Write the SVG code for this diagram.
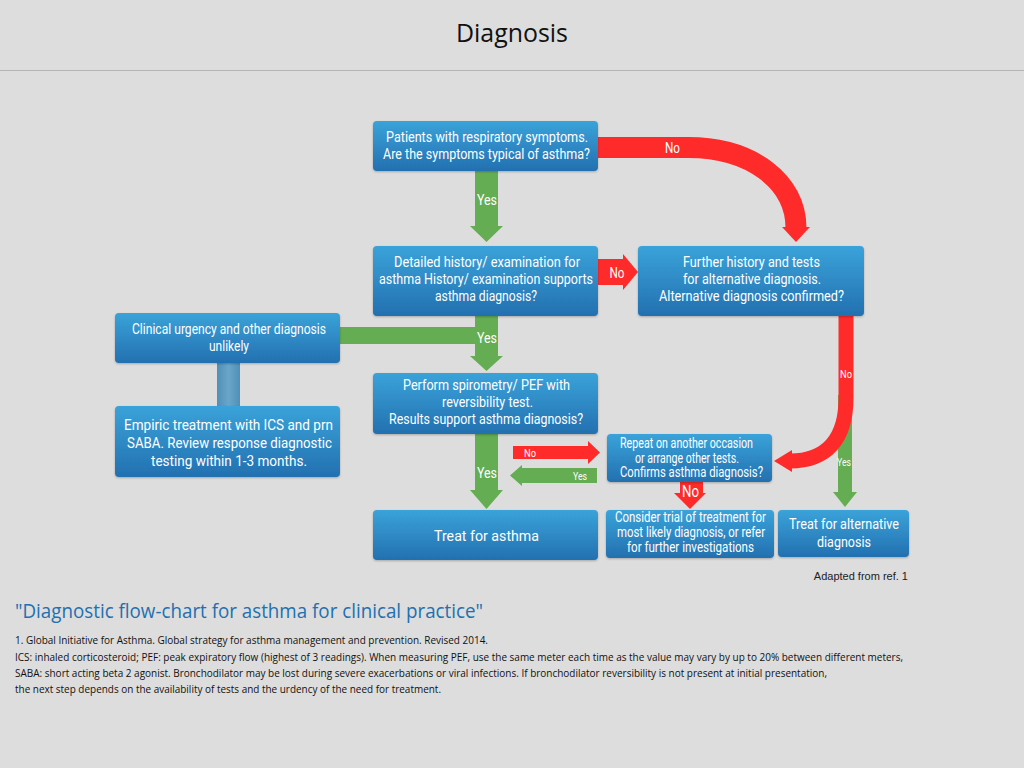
<svg xmlns="http://www.w3.org/2000/svg" width="1024" height="768" viewBox="0 0 1024 768">
<defs>
<linearGradient id="bx" x1="0" y1="0" x2="0" y2="1">
<stop offset="0" stop-color="#3aa3d9"/>
<stop offset="1" stop-color="#2370b0"/>
</linearGradient>
<linearGradient id="lnk" x1="0" y1="0" x2="1" y2="0">
<stop offset="0" stop-color="#4f8fb8"/>
<stop offset="0.5" stop-color="#6aa6c9"/>
<stop offset="1" stop-color="#4f8fb8"/>
</linearGradient>
<filter id="sh" x="-5%" y="-5%" width="110%" height="120%">
<feDropShadow dx="0" dy="1" stdDeviation="1" flood-color="#000" flood-opacity="0.25"/>
</filter>
</defs>
<style>
.box{fill:url(#bx);filter:url(#sh)}
.t{font-family:Roboto,"Liberation Sans",sans-serif;fill:#fff;text-anchor:middle;font-size:14px}
.c{font-family:Roboto,"Liberation Sans",sans-serif;fill:#fff;text-anchor:middle}
.g{fill:#64ad53}
.r{fill:#ff2b2b}
.fn{font-family:"Open Sans","Liberation Sans",sans-serif;font-size:10.5px;fill:#111}
</style>
<rect width="1024" height="768" fill="#dddddd"/>
<text x="512" y="42" text-anchor="middle" font-family="'Open Sans','Liberation Sans',sans-serif" font-size="26" fill="#111" textLength="112" lengthAdjust="spacingAndGlyphs">Diagnosis</text>
<line x1="0" y1="70.5" x2="1024" y2="70.5" stroke="#b5b5b5" stroke-width="1"/>

<g id="connectors">
<!-- 1 -> 2 yes -->
<rect class="g" x="475" y="171" width="23" height="56"/>
<polygon class="g" points="470,226 503,226 486.5,242"/>
<text class="c" x="487" y="205" font-size="15" textLength="20" lengthAdjust="spacingAndGlyphs">Yes</text>
<!-- 1 -> 3 no curve -->
<path d="M598,147.5 H688 C752,147.5 796,182 796,228" fill="none" stroke="#ff2b2b" stroke-width="21"/>
<polygon class="r" points="782,227 810,227 796,242"/>
<text class="c" x="672.5" y="153" font-size="15" textLength="15" lengthAdjust="spacingAndGlyphs">No</text>
<!-- 2 -> 3 no -->
<polygon class="r" points="598,259 623,259 623,254 638,272 623,290 623,285 598,285"/>
<text class="c" x="617" y="278" font-size="15" textLength="15" lengthAdjust="spacingAndGlyphs">No</text>
<!-- 2 -> 6 yes, with join from 4 -->
<rect class="g" x="340" y="327" width="158" height="17"/>
<rect class="g" x="475" y="316" width="23" height="41"/>
<polygon class="g" points="470,356 503,356 486.5,371"/>
<text class="c" x="487" y="343" font-size="15" textLength="20" lengthAdjust="spacingAndGlyphs">Yes</text>
<!-- 4 - 5 link -->
<rect x="217" y="363" width="23" height="43" fill="url(#lnk)"/>
<!-- 6 -> 8 yes -->
<rect class="g" x="475" y="434" width="23" height="57"/>
<polygon class="g" points="470,490 503,490 486.5,509"/>
<text class="c" x="487" y="478" font-size="15" textLength="20" lengthAdjust="spacingAndGlyphs">Yes</text>
<!-- 6 -> 7 no -->
<polygon class="r" points="513,446 588,446 588,441 600,452.5 588,464 588,459 513,459"/>
<text class="c" x="530" y="457" font-size="11" textLength="12" lengthAdjust="spacingAndGlyphs">No</text>
<!-- 7 -> 8 yes -->
<polygon class="g" points="597,468 522,468 522,465 510,475.5 522,486 522,483 597,483"/>
<text class="c" x="580" y="480" font-size="11" textLength="14" lengthAdjust="spacingAndGlyphs">Yes</text>
<!-- 7 -> 9 no -->
<rect class="r" x="680" y="482" width="23" height="12"/>
<polygon class="r" points="674,493 706,493 690,509"/>
<text class="c" x="690.5" y="497" font-size="16" textLength="17" lengthAdjust="spacingAndGlyphs">No</text>
<!-- 3 -> 10 yes -->
<rect class="g" x="838" y="395" width="14" height="98"/>
<polygon class="g" points="833,492 857,492 845,507"/>
<text class="c" x="844" y="466" font-size="11" textLength="14" lengthAdjust="spacingAndGlyphs">Yes</text>
<!-- 3 -> 7 no curve -->
<path d="M846,316 V398 C846,440 826,461 790,461" fill="none" stroke="#ff2b2b" stroke-width="15"/>
<polygon class="r" points="792,450 792,472 774,461"/>
<text class="c" x="846" y="378" font-size="11" textLength="12" lengthAdjust="spacingAndGlyphs">No</text>
</g>

<g id="n1">
<rect class="box" x="373" y="121" width="225" height="50" rx="4"/>
<text class="t" x="487" y="142" textLength="202" lengthAdjust="spacingAndGlyphs">Patients with respiratory symptoms.</text>
<text class="t" x="486.5" y="159" textLength="207" lengthAdjust="spacingAndGlyphs">Are the symptoms typical of asthma?</text>
</g>
<g id="n2">
<rect class="box" x="373" y="246" width="225" height="70" rx="4"/>
<text class="t" x="487" y="267" textLength="186" lengthAdjust="spacingAndGlyphs">Detailed history/ examination for</text>
<text class="t" x="486" y="284" font-size="12.5" textLength="214" lengthAdjust="spacingAndGlyphs">asthma History/ examination supports</text>
<text class="t" x="486" y="301" textLength="102" lengthAdjust="spacingAndGlyphs">asthma diagnosis?</text>
</g>
<g id="n3">
<rect class="box" x="638" y="246" width="226" height="70" rx="4"/>
<text class="t" x="751.5" y="267" textLength="137" lengthAdjust="spacingAndGlyphs">Further history and tests</text>
<text class="t" x="752" y="284" textLength="138" lengthAdjust="spacingAndGlyphs">for alternative diagnosis.</text>
<text class="t" x="751.5" y="301" textLength="185" lengthAdjust="spacingAndGlyphs">Alternative diagnosis confirmed?</text>
</g>
<g id="n4">
<rect class="box" x="115" y="313" width="225" height="50" rx="4"/>
<text class="c" x="229" y="334" font-size="15" textLength="194" lengthAdjust="spacingAndGlyphs">Clinical urgency and other diagnosis</text>
<text class="c" x="229" y="351" font-size="15" textLength="40" lengthAdjust="spacingAndGlyphs">unlikely</text>
</g>
<g id="n5">
<rect class="box" x="115" y="406" width="225" height="71" rx="4"/>
<text class="t" x="228.5" y="430" font-size="15.5" textLength="209" lengthAdjust="spacingAndGlyphs">Empiric treatment with ICS and prn</text>
<text class="t" x="229.5" y="448" font-size="15.5" textLength="205" lengthAdjust="spacingAndGlyphs">SABA. Review response diagnostic</text>
<text class="t" x="229" y="466" font-size="15.5" textLength="156" lengthAdjust="spacingAndGlyphs">testing within 1-3 months.</text>
</g>
<g id="n6">
<rect class="box" x="373" y="373" width="225" height="61" rx="4"/>
<text class="t" x="486.5" y="390" textLength="167" lengthAdjust="spacingAndGlyphs">Perform spirometry/ PEF with</text>
<text class="t" x="487.5" y="407" textLength="91" lengthAdjust="spacingAndGlyphs">reversibility test.</text>
<text class="t" x="486" y="424" textLength="194" lengthAdjust="spacingAndGlyphs">Results support asthma diagnosis?</text>
</g>
<g id="n7">
<rect class="box" x="607" y="434" width="165" height="48" rx="4"/>
<text class="t" x="686.5" y="448" font-size="12.5" textLength="133" lengthAdjust="spacingAndGlyphs">Repeat on another occasion</text>
<text class="t" x="687" y="463" font-size="12.5" textLength="104" lengthAdjust="spacingAndGlyphs">or arrange other tests.</text>
<text class="t" x="691.5" y="477" font-size="12.5" textLength="143" lengthAdjust="spacingAndGlyphs">Confirms asthma diagnosis?</text>
</g>
<g id="n8">
<rect class="box" x="373" y="510" width="225" height="50" rx="4"/>
<text class="t" x="486.5" y="541" font-size="17" textLength="105" lengthAdjust="spacingAndGlyphs">Treat for asthma</text>
</g>
<g id="n9">
<rect class="box" x="606" y="510" width="168" height="48" rx="4"/>
<text class="t" x="690.5" y="522" font-size="12.5" textLength="151" lengthAdjust="spacingAndGlyphs">Consider trial of treatment for</text>
<text class="t" x="691" y="537" font-size="12.5" textLength="148" lengthAdjust="spacingAndGlyphs">most likely diagnosis, or refer</text>
<text class="t" x="690.5" y="552" font-size="12.5" textLength="127" lengthAdjust="spacingAndGlyphs">for further investigations</text>
</g>
<g id="n10">
<rect class="box" x="778" y="510" width="131" height="47" rx="4"/>
<text class="t" x="844" y="529" font-size="14.5" textLength="110" lengthAdjust="spacingAndGlyphs">Treat for alternative</text>
<text class="t" x="844" y="547" font-size="14.5" textLength="54" lengthAdjust="spacingAndGlyphs">diagnosis</text>
</g>

<text x="908" y="580" text-anchor="end" font-family="'Liberation Sans',sans-serif" font-size="11" fill="#222">Adapted from ref. 1</text>
<text x="15" y="618" font-family="'Open Sans','Liberation Sans',sans-serif" font-size="20" fill="#2170b0" textLength="468" lengthAdjust="spacingAndGlyphs">"Diagnostic flow-chart for asthma for clinical practice"</text>
<text class="fn" x="15" y="644" textLength="473" lengthAdjust="spacingAndGlyphs">1. Global Initiative for Asthma. Global strategy for asthma management and prevention. Revised 2014.</text>
<text class="fn" x="15" y="661" textLength="888" lengthAdjust="spacingAndGlyphs">ICS: inhaled corticosteroid; PEF: peak expiratory flow (highest of 3 readings). When measuring PEF, use the same meter each time as the value may vary by up to 20% between different meters,</text>
<text class="fn" x="15" y="677" textLength="812" lengthAdjust="spacingAndGlyphs">SABA: short acting beta 2 agonist. Bronchodilator may be lost during severe exacerbations or viral infections. If bronchodilator reversibility is not present at initial presentation,</text>
<text class="fn" x="15" y="693" textLength="426" lengthAdjust="spacingAndGlyphs">the next step depends on the availability of tests and the urdency of the need for treatment.</text>
</svg>
